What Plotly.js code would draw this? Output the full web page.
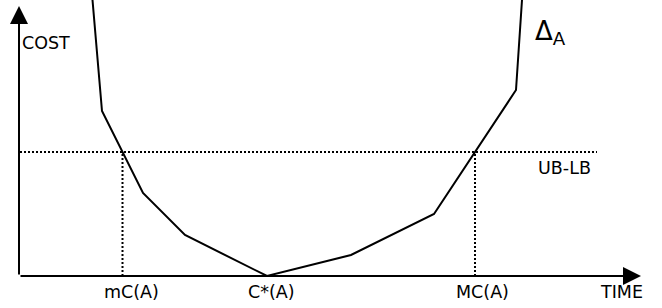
<!DOCTYPE html>
<html><head><meta charset="utf-8">
<script src="https://cdn.plot.ly/plotly-3.0.1.min.js"></script>
<style>html,body{margin:0;padding:0;background:#fff}#c{width:662px;height:308px}</style>
</head><body><div id="c"></div>
<script>
// Cost curve Δ_A (time vs cost), arbitrary units
const curveTime = [73.5, 83, 124, 166, 248, 332, 415, 497, 503];
const curveCost = [276, 165, 83, 41, 0, 21, 62, 186, 276];
const ubLb = 124;            // UB-LB level
const mCA = 103.5;           // mC(A)
const cStarA = 248;          // C*(A)
const MCA = 456;             // MC(A)
const tickLabels = ["mC(A)", "C*(A)", "MC(A)"];
const tickPos = [mCA, cStarA, MCA];
const axisEndX = 622, axisEndY = 270;

const font = {family: "DejaVu Sans", size: 17.5, color: "#000"};
const dotted = {color: "#000", width: 2, dash: "2px,2px"};
const traces = [
  {x: curveTime, y: curveCost, mode: "lines", line: {color: "#000", width: 2}, hoverinfo: "skip"},
  {x: [1, 578], y: [ubLb, ubLb], mode: "lines", line: dotted, hoverinfo: "skip"},
  {x: [mCA, mCA], y: [0, ubLb], mode: "lines", line: dotted, hoverinfo: "skip"},
  {x: [MCA, MCA], y: [0, ubLb], mode: "lines", line: dotted, hoverinfo: "skip"}
];
const arrow = {xref: "x", yref: "y", axref: "x", ayref: "y", ax: 0, ay: 0, text: "", showarrow: true,
  arrowhead: 2, arrowsize: 1.8, arrowwidth: 2, arrowcolor: "#000", standoff: 0};
const ann = [
  Object.assign({x: axisEndX, y: 0}, arrow),
  Object.assign({x: 0, y: axisEndY}, arrow),
  {x: 1, y: 233, text: "COST", showarrow: false, xanchor: "left", font: font},
  {x: 602, y: -16, text: "TIME", showarrow: false, font: font},
  {x: 545, y: 108, text: "UB-LB", showarrow: false, font: font},
  {x: 531, y: 244, text: "Δ<sub>A</sub>", showarrow: false, font: {family: "DejaVu Sans", size: 26, color: "#000"}}
];
const offs = [9, 4, 7];
tickLabels.forEach((t, i) => ann.push({x: tickPos[i] + offs[i], y: -16, text: t, showarrow: false, font: font}));

const layout = {
  width: 662, height: 308, margin: {l: 0, r: 0, t: 0, b: 0},
  paper_bgcolor: "#fff", plot_bgcolor: "#fff", showlegend: false,
  xaxis: {range: [-19, 643], visible: false, fixedrange: true},
  yaxis: {range: [-32, 276], visible: false, fixedrange: true},
  annotations: ann
};
Plotly.newPlot("c", traces, layout, {staticPlot: true});
</script></body></html>
